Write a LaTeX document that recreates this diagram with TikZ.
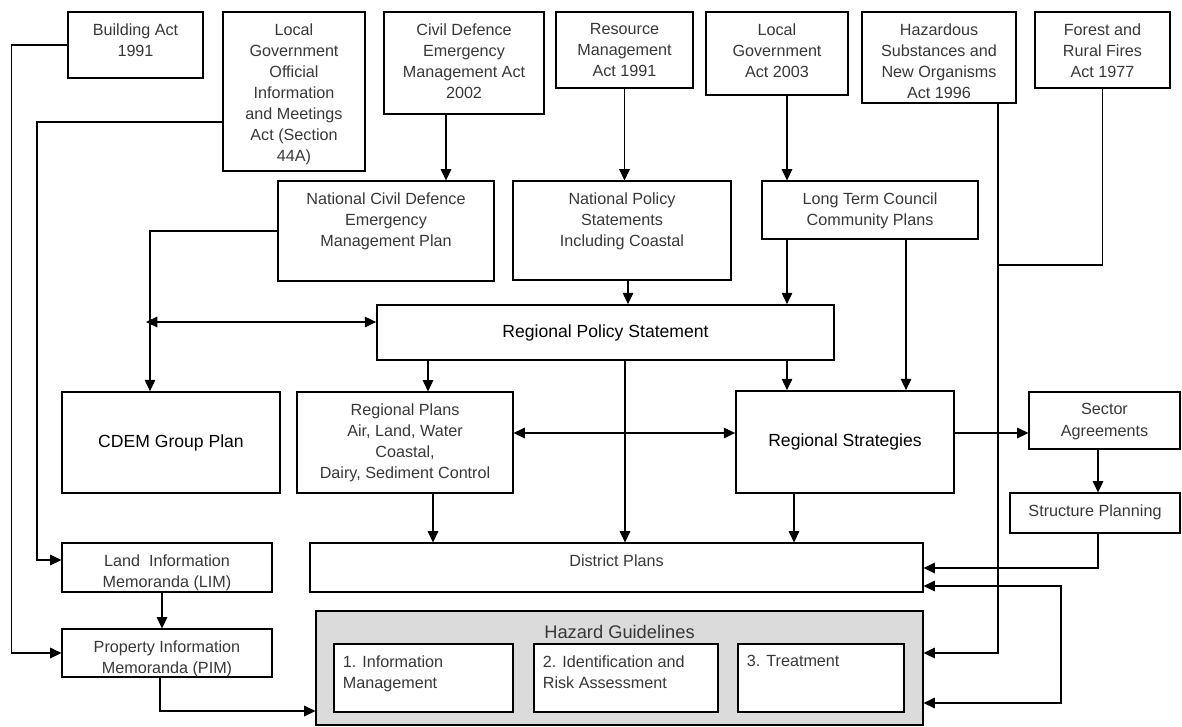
\documentclass[tikz,border=0pt]{standalone}
\usepackage{fontspec}
\setmainfont{Liberation Sans}
\usetikzlibrary{positioning,fit,arrows.meta}

\tikzset{
  box/.style={draw, line width=0.8pt, inner sep=0pt},
  bigbox/.style={draw, line width=1.3pt, inner sep=0pt, align=center, font=\fontsize{12.5}{15}\selectfont},
  txt/.style={inner sep=0pt, align=center, text=black!78, font=\fontsize{11.5}{15}\selectfont},
  ltxt/.style={inner sep=0pt, align=left, text=black!78, font=\fontsize{11.5}{15}\selectfont},
  arr/.style={-{Triangle[length=8pt,width=7.5pt]}, line width=0.8pt},
  dbl/.style={{Triangle[length=8pt,width=7.5pt]}-{Triangle[length=8pt,width=7.5pt]}, line width=0.8pt},
}

\begin{document}
\begin{tikzpicture}[x=0.025cm,y=-0.025cm]
\useasboundingbox (0,0) rectangle (1182,726);

% Acts
\node[box, fit={(68,12) (203,78)}] (bact) {};
\node[txt, below=8.5pt of bact.north] (bact-t) {Building Act\\1991};
\node[box, fit={(223,12) (365,171)}] (lgoima) {};
\node[txt, below=8.5pt of lgoima.north] (lgoima-t) {Local\\Government\\Official\\Information\\and Meetings\\Act (Section\\44A)};
\node[box, fit={(384,12) (544,114)}] (cdact) {};
\node[txt, below=8.5pt of cdact.north] (cdact-t) {Civil Defence\\Emergency\\Management Act\\2002};
\node[box, fit={(556,12) (693,88)}] (rma) {};
\node[txt, below=8.5pt of rma.north] (rma-t) {Resource\\Management\\Act 1991};
\node[box, fit={(706,12) (848,95)}] (lga) {};
\node[txt, below=8.5pt of lga.north] (lga-t) {Local\\Government\\Act 2003};
\node[box, fit={(862,12) (1016,103)}] (hsno) {};
\node[txt, below=8.5pt of hsno.north] (hsno-t) {Hazardous\\Substances and\\New Organisms\\Act 1996};
\node[box, fit={(1035,12) (1170,88)}] (frfa) {};
\node[txt, below=8.5pt of frfa.north] (frfa-t) {Forest and\\Rural Fires\\Act 1977};

% National level
\node[box, fit={(278,181) (494,281)}] (ncd) {};
\node[txt, below=8.5pt of ncd.north] (ncd-t) {National Civil Defence\\Emergency\\Management Plan};
\node[box, fit={(513,181) (731,280)}] (nps) {};
\node[txt, below=8.5pt of nps.north] (nps-t) {National Policy\\Statements\\Including Coastal};
\node[box, fit={(762,181) (978,239)}] (ltccp) {};
\node[txt, below=8.5pt of ltccp.north] (ltccp-t) {Long Term Council\\Community Plans};

% Regional level
\node[bigbox, fit={(377,305) (834,360)}] (rps) {};
\node at (rps.center) (rps-t) {\fontsize{12.5}{15}\selectfont Regional Policy Statement};
\node[bigbox, fit={(62,392) (280,493)}] (cdem) {};
\node at (cdem.center) (cdem-t) {\fontsize{12.5}{15}\selectfont CDEM Group Plan};
\node[box, fit={(297,392) (513,493)}] (regplans) {};
\node[txt, below=8.5pt of regplans.north] (regplans-t) {Regional Plans\\Air, Land, Water\\Coastal,\\Dairy, Sediment Control};
\node[bigbox, fit={(736,391) (954,493)}] (rs) {};
\node at (rs.center) (rs-t) {\fontsize{12.5}{15}\selectfont Regional Strategies};
\node[box, fit={(1029,392) (1180,449)}] (sector) {};
\node[txt, below=8.5pt of sector.north] (sector-t) {Sector\\Agreements};
\node[box, fit={(1010,493) (1180,533)}] (structure) {};
\node[txt, below=8.5pt of structure.north] (structure-t) {Structure Planning};

% District level
\node[box, fit={(62,543) (272,592)}] (lim) {};
\node[txt, below=8.5pt of lim.north] (lim-t) {Land~~Information\\Memoranda (LIM)};
\node[box, fit={(62,629) (272,677)}] (pim) {};
\node[txt, below=8.5pt of pim.north] (pim-t) {Property Information\\Memoranda (PIM)};
\node[box, fit={(310,543) (923,592)}] (district) {};
\node[txt, below=8.5pt of district.north] (district-t) {District Plans};

% Hazard guidelines
\node[box, fill=gray!28, fit={(316,611) (923,725)}] (hazard) {};
\node[txt, font=\fontsize{13}{15}\selectfont, below=10pt of hazard.north] (hazard-t) {Hazard Guidelines};
\node[box, fill=white, fit={(334,644) (513,712)}] (hg1) {};
\node[ltxt, below right=8.5pt and 6.5pt of hg1.north west] (hg1-t) {1. Information\\Management};
\node[box, fill=white, fit={(534,644) (718,712)}] (hg2) {};
\node[ltxt, below right=8.5pt and 6.5pt of hg2.north west] (hg2-t) {2. Identification and\\Risk Assessment};
\node[box, fill=white, fit={(738,644) (904,712)}] (hg3) {};
\node[ltxt, below right=8.5pt and 6.5pt of hg3.north west] (hg3-t) {3. Treatment};

% Left feeds
\draw[arr] (bact.west) -- ++(-56,0) |- (pim.west);
\draw[arr] (lgoima.west |- 0,122) -- (37,122) |- (lim.west |- 0,560);
\draw[arr] (lim.south -| 162,0) -- (pim.north -| 162,0);
\draw[arr] (pim.south -| 160,0) |- (hazard.west |- 0,711);

% Acts to plans
\draw[arr] (cdact.south -| 446,0) -- (ncd.north -| 446,0);
\draw[arr] (rma.south) -- (rma.south |- nps.north);
\draw[arr] (lga.south -| 787,0) -- (ltccp.north -| 787,0);
\draw[line width=0.8pt] (frfa.south) |- (998,265);
\draw[arr] (hsno.south -| 998,0) |- (hazard.east |- 0,653);

% Civil defence branch
\coordinate (ncdsplit) at (146,322);
\draw[arr] (ncd.west) -| (cdem.north -| 150,0);
\draw[dbl] (ncdsplit) -- (rps.west |- ncdsplit);

% Into the regional policy statement
\draw[arr] (nps.south -| 628,0) -- (rps.north -| 628,0);
\draw[arr] (ltccp.south -| 787,0) -- (rps.north -| 787,0);
\draw[arr] (ltccp.south -| 906,0) -- (rs.north -| 906,0);

% Out of the regional policy statement
\draw[arr] (rps.south -| 428,0) -- (regplans.north -| 428,0);
\draw[arr] (rps.south -| 787,0) -- (rs.north -| 787,0);
\draw[arr] (rps.south -| 625,0) -- (district.north -| 625,0);
\draw[dbl] (regplans.east |- 0,433) -- (rs.west |- 0,433);
\draw[arr] (rs.east |- 0,433) -- (sector.west |- 0,433);
\draw[arr] (sector.south -| 1098,0) -- (structure.north -| 1098,0);

% Into district plans
\draw[arr] (regplans.south -| 433,0) -- (district.north -| 433,0);
\draw[arr] (rs.south -| 794,0) -- (district.north -| 794,0);
\draw[arr] (structure.south -| 1098,0) |- (district.east |- 0,568);
\draw[dbl] (district.east |- 0,586) -- (1061,586) |- (hazard.east |- 0,703);
\end{tikzpicture}
\end{document}
